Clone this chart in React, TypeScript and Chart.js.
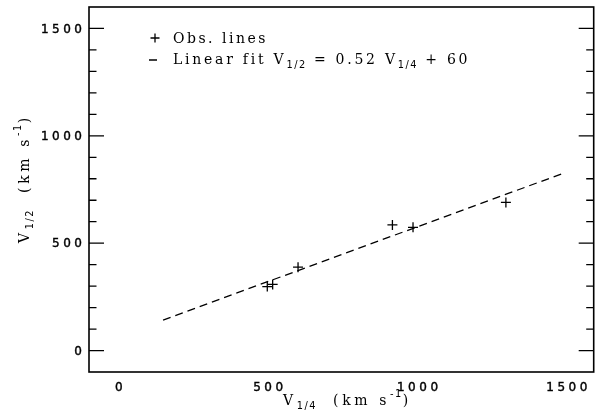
import React, { useEffect, useRef } from "react";
import { Chart, registerables } from "chart.js";

Chart.register(...registerables);

// Observed lines
const obsV14 = [497, 515, 600, 916, 985, 1296];
const obsV12 = [298, 308, 388, 585, 574, 690];
// Linear fit V1/2 = 0.52 V1/4 + 60 (end points as drawn)
const fitV14 = [148, 1487];
const fitV12 = [142, 825];
// Axes
const xMin = -100;
const xMax = 1590;
const yMin = -100;
const yMax = 1600;
const majorStep = 500;
const minorStep = 100;
const xTickValues = [0, 500, 1000, 1500];
const xTickLabels = ["0", "500", "1000", "1500"];
const yTickValues = [0, 500, 1000, 1500];
const yTickLabels = ["0", "500", "1000", "1500"];
const legendObs = "Obs. lines";

type Part = { t: string; mode?: "sub" | "sup" };

const SERIF = "'DejaVu Serif', serif";
const SANS = "'DejaVu Sans', sans-serif";
const TICK_SPACING = 3.5;

function drawRich(ctx: CanvasRenderingContext2D, parts: Part[], x: number, y: number, size: number, spacing: number) {
  let cx = x;
  for (const p of parts) {
    const fs = p.mode ? size * 0.7 : size;
    ctx.font = `${fs}px ${p.mode ? SANS : SERIF}`;
    (ctx as any).letterSpacing = `${p.mode ? 1.5 : spacing}px`;
    const dy = p.mode === "sub" ? size * 0.28 : p.mode === "sup" ? -size * 0.55 : 0;
    ctx.fillText(p.t, cx, y + dy);
    cx += ctx.measureText(p.t).width;
  }
  return cx;
}

function tickText(ctx: CanvasRenderingContext2D, s: string, x: number, y: number) {
  ctx.fillText(s, x, y);
  ctx.strokeText(s, x, y);
}

const decorPlugin = {
  id: "decor",
  beforeDraw(chart: any) {
    const ctx = chart.ctx as CanvasRenderingContext2D;
    ctx.save();
    ctx.fillStyle = "#fff";
    ctx.fillRect(0, 0, chart.width, chart.height);
    ctx.restore();
  },
  afterDraw(chart: any) {
    const ctx = chart.ctx as CanvasRenderingContext2D;
    const a = chart.chartArea;
    const xs = chart.scales.x;
    const ys = chart.scales.y;
    ctx.save();
    ctx.strokeStyle = "#000";
    ctx.lineWidth = 1.6;
    ctx.strokeRect(a.left, a.top, a.right - a.left, a.bottom - a.top);
    ctx.lineWidth = 1.3;
    ctx.beginPath();
    for (const t of xs.ticks) {
      const v = Math.round(t.value);
      if (v % minorStep !== 0) continue;
      const px = xs.getPixelForValue(v);
      if (px <= a.left + 1 || px >= a.right - 1) continue;
      const len = v % majorStep === 0 ? 11 : 5;
      ctx.moveTo(px, a.bottom);
      ctx.lineTo(px, a.bottom - len);
      ctx.moveTo(px, a.top);
      ctx.lineTo(px, a.top + len);
    }
    for (const t of ys.ticks) {
      const v = Math.round(t.value);
      if (v % minorStep !== 0) continue;
      const py = ys.getPixelForValue(v);
      if (py <= a.top + 1 || py >= a.bottom - 1) continue;
      const len = v % majorStep === 0 ? 15 : 7.5;
      ctx.moveTo(a.left, py);
      ctx.lineTo(a.left + len, py);
      ctx.moveTo(a.right, py);
      ctx.lineTo(a.right - len, py);
    }
    ctx.stroke();

    // Tick labels, positioned by the scales
    ctx.fillStyle = "#000";
    ctx.lineWidth = 0.4;
    ctx.font = `12px ${SANS}`;
    (ctx as any).letterSpacing = `${TICK_SPACING}px`;
    ctx.textBaseline = "alphabetic";
    ctx.textAlign = "center";
    xTickValues.forEach((v, i) => {
      tickText(ctx, xTickLabels[i], xs.getPixelForValue(v) + TICK_SPACING / 2, a.bottom + 18.5);
    });
    ctx.textAlign = "right";
    yTickValues.forEach((v, i) => {
      tickText(ctx, yTickLabels[i], a.left - 7 + TICK_SPACING, ys.getPixelForValue(v) + 4.3);
    });

    // Legend
    ctx.textBaseline = "alphabetic";
    ctx.textAlign = "left";
    ctx.lineWidth = 1.3;
    ctx.beginPath();
    ctx.moveTo(150.5, 38);
    ctx.lineTo(159.5, 38);
    ctx.moveTo(155, 33.5);
    ctx.lineTo(155, 42.5);
    ctx.stroke();
    drawRich(ctx, [{ t: legendObs }], 173, 43, 14, 2.5);
    ctx.lineWidth = 1.5;
    ctx.beginPath();
    ctx.moveTo(149, 60);
    ctx.lineTo(157, 60);
    ctx.stroke();
    drawRich(
      ctx,
      [
        { t: "Linear fit V" },
        { t: "1/2", mode: "sub" },
        { t: " = 0.52 V" },
        { t: "1/4", mode: "sub" },
        { t: " + 60" },
      ],
      173,
      64,
      14,
      2.75
    );

    // X title
    drawRich(
      ctx,
      [{ t: "V" }, { t: "1/4", mode: "sub" }, { t: "  (km s" }, { t: "-1", mode: "sup" }, { t: ")" }],
      283,
      405,
      14,
      3.6
    );

    // Y title
    ctx.translate(29, 243);
    ctx.rotate(-Math.PI / 2);
    drawRich(
      ctx,
      [{ t: "V" }, { t: "1/2", mode: "sub" }, { t: "  (km s" }, { t: "-1", mode: "sup" }, { t: ")" }],
      0,
      0,
      14,
      3.6
    );
    ctx.restore();
  },
};

export default function App() {
  const ref = useRef<HTMLCanvasElement>(null);
  useEffect(() => {
    document.body.style.margin = "0";
    const canvas = ref.current!;
    const chart = new Chart(canvas, {
      type: "scatter",
      data: {
        datasets: [
          {
            label: legendObs,
            data: obsV14.map((x, i) => ({ x, y: obsV12[i] })),
            pointStyle: "cross",
            pointRadius: 5,
            pointBorderWidth: 1.3,
            borderColor: "#000",
            backgroundColor: "#000",
            showLine: false,
          },
          {
            label: "Linear fit",
            data: fitV14.map((x, i) => ({ x, y: fitV12[i] })),
            showLine: true,
            pointRadius: 0,
            borderColor: "#000",
            borderWidth: 1.3,
            borderDash: [8, 5],
          },
        ],
      },
      options: {
        responsive: false,
        animation: false,
        events: [],
        layout: { padding: { left: 0, top: 7, right: 6, bottom: 0 } },
        plugins: { legend: { display: false }, tooltip: { enabled: false }, title: { display: false } },
        scales: {
          x: {
            type: "linear",
            min: xMin,
            max: xMax,
            border: { display: false },
            grid: { display: false, drawTicks: false },
            ticks: { display: false, stepSize: minorStep, includeBounds: false, autoSkip: false },
            afterFit: (s: any) => {
              s.height = 38;
            },
          },
          y: {
            type: "linear",
            min: yMin,
            max: yMax,
            border: { display: false },
            grid: { display: false, drawTicks: false },
            ticks: { display: false, stepSize: minorStep, includeBounds: false, autoSkip: false },
            afterFit: (s: any) => {
              s.width = 89;
            },
          },
        },
      },
      plugins: [decorPlugin],
    });
    return () => chart.destroy();
  }, []);
  return <canvas ref={ref} width={600} height={410} style={{ display: "block" }} />;
}
